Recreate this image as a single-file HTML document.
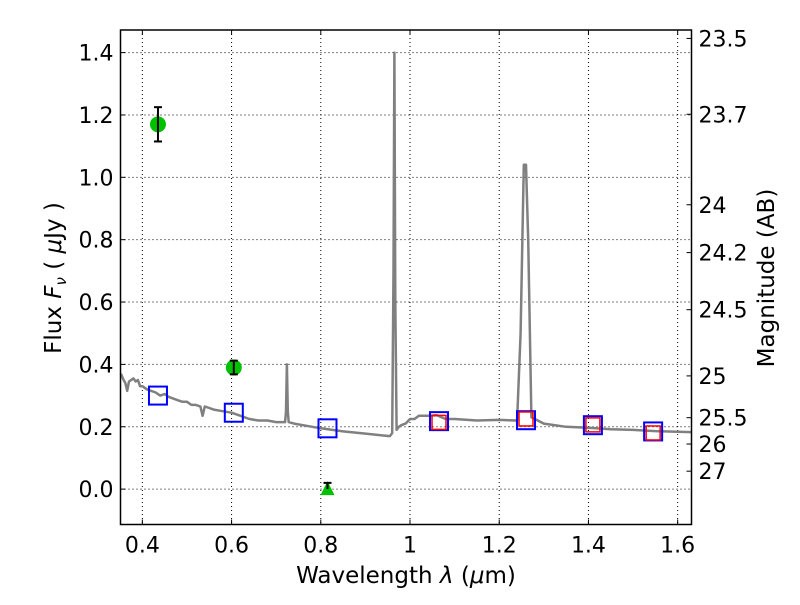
<!DOCTYPE html>
<html><head><meta charset="utf-8"><style>
body{margin:0;background:#fff}
svg{font-family:"DejaVu Sans","Liberation Sans",sans-serif}
</style></head><body>
<svg id="c" width="800" height="600" viewBox="0 0 800 600"></svg>
<script>
const specWave=[0.352,0.358,0.362,0.366,0.37,0.375,0.38,0.385,0.39,0.395,0.4,0.41,0.42,0.43,0.44,0.45,0.46,0.47,0.48,0.49,0.5,0.51,0.52,0.53,0.535,0.54,0.55,0.56,0.58,0.6,0.62,0.64,0.66,0.68,0.7,0.72,0.722,0.724,0.726,0.728,0.74,0.76,0.8,0.85,0.9,0.94,0.955,0.96,0.963,0.965,0.967,0.97,0.975,0.98,0.99,1.0,1.01,1.02,1.04,1.06,1.08,1.1,1.15,1.2,1.24,1.248,1.255,1.26,1.265,1.272,1.28,1.3,1.35,1.4,1.45,1.5,1.55,1.6,1.631];
const specFlux=[0.37,0.35,0.34,0.315,0.345,0.35,0.355,0.345,0.35,0.33,0.33,0.32,0.315,0.31,0.3,0.305,0.295,0.29,0.285,0.28,0.28,0.27,0.27,0.265,0.235,0.265,0.26,0.255,0.25,0.245,0.235,0.225,0.22,0.22,0.215,0.215,0.25,0.40,0.25,0.215,0.21,0.205,0.195,0.185,0.178,0.172,0.17,0.18,0.7,1.40,0.6,0.19,0.2,0.205,0.21,0.225,0.225,0.235,0.235,0.237,0.225,0.225,0.22,0.222,0.22,0.5,1.04,1.04,0.8,0.23,0.225,0.21,0.2,0.197,0.192,0.19,0.186,0.184,0.183];
const photWave=[0.435,0.605];
const photFlux=[1.17,0.39];
const photErr=[0.055,0.022];
const limWave=[0.815];
const limFlux=[0.0];
const limErr=[0.02];
const modelWave=[0.435,0.605,0.815,1.065,1.26,1.41,1.545];
const modelFlux=[0.30,0.245,0.195,0.218,0.221,0.205,0.185];
const obsWave=[1.065,1.26,1.41,1.545];
const obsFlux=[0.214,0.225,0.206,0.18];
const xTicks=[0.4,0.6,0.8,1.0,1.2,1.4,1.6];
const xTickLabels=["0.4","0.6","0.8","1","1.2","1.4","1.6"];
const yTicks=[0,0.2,0.4,0.6,0.8,1.0,1.2,1.4];
const yTickLabels=["0.0","0.2","0.4","0.6","0.8","1.0","1.2","1.4"];
const magTicks=[23.5,23.7,24,24.2,24.5,25,25.5,26,27];
const magLabels=["23.5","23.7","24","24.2","24.5","25","25.5","26","27"];

const L=120.5,R=691.5,T=30,B=524.5;
const x0=0.351,x1=1.631,y0=-0.1135,y1=1.4725;
const X=v=>L+(v-x0)/(x1-x0)*(R-L);
const Y=v=>B-(v-y0)/(y1-y0)*(B-T);
const svg=document.getElementById('c');
const NS="http://www.w3.org/2000/svg";
function mk(t,a,p){const e=document.createElementNS(NS,t);for(const k in a)e.setAttribute(k,a[k]);(p||svg).appendChild(e);return e;}

xTicks.forEach((v,i)=>{
 const g=mk('line',{x1:X(v),x2:X(v),y1:T,y2:B,stroke:'#000','stroke-width':1,'stroke-dasharray':'1,3'});
 
 
 const t=mk('line',{x1:X(v),x2:X(v),y1:B,y2:B-5,stroke:'#000'});
 
 
 mk('line',{x1:X(v),x2:X(v),y1:T,y2:T+5,stroke:'#000'});
 const l=mk('text',{x:X(v),y:B+28,'font-size':22,'text-anchor':'middle'});l.textContent=xTickLabels[i];
 
 
});
yTicks.forEach((v,i)=>{
 const g=mk('line',{x1:L,x2:R,y1:Y(v),y2:Y(v),stroke:'#000','stroke-width':1,'stroke-dasharray':'1,3'});
 
 
 mk('line',{x1:L,x2:L+5,y1:Y(v),y2:Y(v),stroke:'#000'});
 const l=mk('text',{x:L-7,y:Y(v)+8,'font-size':22,'text-anchor':'end'});l.textContent=yTickLabels[i];
 
 
});
magTicks.forEach((m,i)=>{
 const f=Math.pow(10,(23.9-m)/2.5);
 mk('line',{x1:R,x2:R-5,y1:Y(f),y2:Y(f),stroke:'#000'});
 const l=mk('text',{x:R+7,y:Y(f)+8,'font-size':22});l.textContent=magLabels[i];
 
 
});

let d='';specWave.forEach((w,i)=>{d+=(i?'L':'M')+X(w).toFixed(1)+','+Y(specFlux[i]).toFixed(1);});
const sp=mk('path',{d:d,fill:'none',stroke:'#808080','stroke-width':2.5,'stroke-linejoin':'round'});



modelWave.forEach((w,i)=>{
 const r=mk('rect',{x:X(w)-9,y:Y(modelFlux[i])-9,width:18,height:18,fill:'none',stroke:'#0000ff','stroke-width':2});
 
 
});
obsWave.forEach((w,i)=>{
 const r=mk('rect',{x:X(w)-7,y:Y(obsFlux[i])-7,width:14,height:14,fill:'none',stroke:'#ff0000','stroke-width':1.5});
 
 
});
photWave.forEach((w,i)=>{
 const c=mk('circle',{cx:X(w),cy:Y(photFlux[i]),r:8,fill:'#00c000'});
 
 
 const x=X(w),ya=Y(photFlux[i]-photErr[i]),yb=Y(photFlux[i]+photErr[i]);
 mk('line',{x1:x,x2:x,y1:ya,y2:yb,stroke:'#000','stroke-width':2});
 mk('line',{x1:x-4,x2:x+4,y1:ya,y2:ya,stroke:'#000','stroke-width':2});
 mk('line',{x1:x-4,x2:x+4,y1:yb,y2:yb,stroke:'#000','stroke-width':2});
});
limWave.forEach((w,i)=>{
 const x=X(w),y=Y(limFlux[i]);
 const p=mk('polygon',{points:`${x},${y-8} ${x-7},${y+6} ${x+7},${y+6}`,fill:'#00c000'});
 
 
 const yb=Y(limFlux[i]+limErr[i]);
 mk('line',{x1:x,x2:x,y1:y,y2:yb,stroke:'#000','stroke-width':2});
 mk('line',{x1:x-4,x2:x+4,y1:yb,y2:yb,stroke:'#000','stroke-width':2});
});

const fr=mk('rect',{x:L,y:T,width:R-L,height:B-T,fill:'none',stroke:'#000','stroke-width':1.5});



const xt=mk('text',{x:406,y:583,'font-size':23,'text-anchor':'middle'});
xt.innerHTML='Wavelength  <tspan font-style="italic">λ</tspan> (<tspan font-style="italic">μ</tspan>m)';


xt.setAttribute('xml:space','preserve');
const yt=mk('text',{x:61,y:278,'font-size':23,'text-anchor':'middle',transform:'rotate(-90 61 278)'});
yt.innerHTML='Flux  <tspan font-style="italic">F</tspan><tspan font-style="italic" font-size="15" dy="5">ν</tspan><tspan dy="-5">  (  </tspan><tspan font-style="italic">μ</tspan>Jy )';


const rt=mk('text',{x:774,y:278,'font-size':23,'text-anchor':'middle',transform:'rotate(-90 774 278)'});
rt.textContent='Magnitude (AB)';


</script>
</body></html>
